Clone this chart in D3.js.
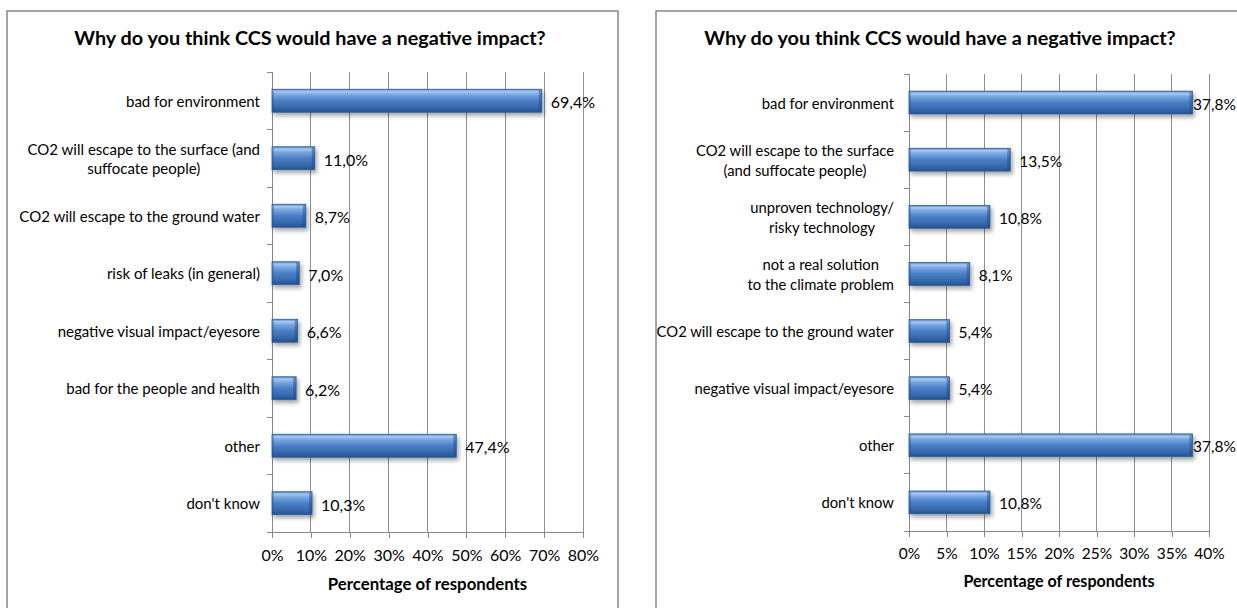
<!DOCTYPE html>
<html>
<head>
<meta charset="utf-8">
<script src="https://cdn.jsdelivr.net/npm/d3@7"></script>
<style>
  html, body { margin: 0; padding: 0; background: #fff; }
  svg { display: block; }
  text { font-family: Lato, "Open Sans", sans-serif; fill: #000; }
</style>
</head>
<body>
<svg id="chart" width="1237" height="608"></svg>
<script>
// ---- data ----
const chartTitle = "Why do you think CCS would have a negative impact?";
const axisTitle = "Percentage of respondents";

const leftCategories = [
  "bad for environment",
  "CO2 will escape to the surface (and\nsuffocate people)",
  "CO2 will escape to the ground water",
  "risk of leaks (in general)",
  "negative visual impact/eyesore",
  "bad for the people and health",
  "other",
  "don't know"
];
const leftValues = [69.4, 11.0, 8.7, 7.0, 6.6, 6.2, 47.4, 10.3];
const leftTicks = [0, 10, 20, 30, 40, 50, 60, 70, 80];

const rightCategories = [
  "bad for environment",
  "CO2 will escape to the surface\n(and suffocate people)",
  "unproven technology/\nrisky technology",
  "not a real solution\nto the climate problem",
  "CO2 will escape to the ground water",
  "negative visual impact/eyesore",
  "other",
  "don't know"
];
const rightValues = [37.8, 13.5, 10.8, 8.1, 5.4, 5.4, 37.8, 10.8];
const rightTicks = [0, 5, 10, 15, 20, 25, 30, 35, 40];

// ---- drawing ----
const svg = d3.select("#chart");
const defs = svg.append("defs");

const grad = defs.append("linearGradient").attr("id", "barGrad")
  .attr("x1", 0).attr("y1", 0).attr("x2", 0).attr("y2", 1);
[["0%", "#4f82c6"], ["10%", "#a9c8f0"], ["24%", "#78a6e2"], ["50%", "#4a7fc6"],
 ["82%", "#3467aa"], ["100%", "#23508c"]].forEach(([o, c]) =>
  grad.append("stop").attr("offset", o).attr("stop-color", c));

const shadow = defs.append("filter").attr("id", "shadow")
  .attr("x", "-10%").attr("y", "-30%").attr("width", "130%").attr("height", "180%");
shadow.append("feDropShadow").attr("dx", 2).attr("dy", 3).attr("stdDeviation", 2)
  .attr("flood-color", "#000").attr("flood-opacity", 0.35);

const gridColor = "#8e8e8e";
const axisColor = "#868686";

// panel borders
svg.append("rect").attr("x", 7).attr("y", 11).attr("width", 611).attr("height", 620)
  .attr("fill", "none").attr("stroke", "#878787").attr("stroke-width", 1.5);
svg.append("rect").attr("x", 656).attr("y", 11).attr("width", 620).attr("height", 620)
  .attr("fill", "none").attr("stroke", "#878787").attr("stroke-width", 1.5);

function drawPanel(cfg, categories, values, ticks) {
  const g = svg.append("g");
  const x = d3.scaleLinear().domain([0, ticks[ticks.length - 1]]).range([cfg.x0, cfg.x1]);
  const y = d3.scaleBand().domain(categories).range([cfg.y0, cfg.y1])
    .paddingInner(0.6).paddingOuter(0.3);
  const step = y.step();

  // title
  g.append("text").attr("x", cfg.titleX).attr("y", cfg.titleY)
    .attr("text-anchor", "middle").attr("font-weight", "bold")
    .attr("font-size", cfg.titleSize).text(chartTitle);

  // gridlines
  g.selectAll(".grid").data(ticks.slice(1)).join("line")
    .attr("x1", d => x(d)).attr("x2", d => x(d))
    .attr("y1", cfg.y0).attr("y2", cfg.y1)
    .attr("stroke", gridColor).attr("stroke-width", 1)
    .attr("shape-rendering", "crispEdges");

  // bottom axis
  const xAxis = d3.axisBottom(x).tickValues(ticks).tickSize(6).tickPadding(cfg.tickPad)
    .tickFormat(d => d + "%");
  const ax = g.append("g").attr("transform", `translate(0,${cfg.y1})`).call(xAxis);
  ax.select(".domain").remove();
  ax.selectAll(".tick line").attr("stroke", axisColor).attr("shape-rendering", "crispEdges");
  ax.selectAll(".tick text").attr("font-size", cfg.tickSize)
    .attr("font-family", "Lato, 'Open Sans', sans-serif").attr("fill", "#000");
  g.append("line").attr("x1", cfg.x0 - 5).attr("x2", cfg.x1)
    .attr("y1", cfg.y1).attr("y2", cfg.y1)
    .attr("stroke", axisColor).attr("shape-rendering", "crispEdges");

  // left axis line + ticks at band boundaries
  g.append("line").attr("x1", cfg.x0).attr("x2", cfg.x0)
    .attr("y1", cfg.y0).attr("y2", cfg.y1)
    .attr("stroke", axisColor).attr("shape-rendering", "crispEdges");
  const bounds = d3.range(categories.length + 1).map(i => cfg.y0 + i * step);
  g.selectAll(".ytick").data(bounds).join("line")
    .attr("x1", cfg.x0 - 5).attr("x2", cfg.x0)
    .attr("y1", d => d).attr("y2", d => d)
    .attr("stroke", axisColor).attr("shape-rendering", "crispEdges");

  // axis title
  g.append("text").attr("x", (cfg.x0 + cfg.x1) / 2).attr("y", cfg.axisTitleY)
    .attr("text-anchor", "middle").attr("dominant-baseline", "central")
    .attr("font-weight", "bold").attr("font-size", cfg.axisTitleSize).text(axisTitle);

  // category labels
  categories.forEach(cat => {
    const lines = cat.split("\n");
    const cy = y(cat) + y.bandwidth() / 2;
    const right = cfg.x0 - cfg.labelGap;
    const t = g.append("text").attr("font-size", cfg.catSize)
      .attr("dominant-baseline", "central");
    if (lines.length === 1) {
      t.attr("x", right).attr("y", cy).attr("text-anchor", "end").text(lines[0]);
    } else {
      const widths = lines.map(l => {
        const m = g.append("text").attr("font-size", cfg.catSize).text(l);
        const w = m.node().getComputedTextLength();
        m.remove();
        return w;
      });
      const cx = right - d3.max(widths) / 2;
      t.attr("text-anchor", "middle");
      lines.forEach((l, i) => {
        t.append("tspan").attr("x", cx)
          .attr("y", cy + (i - (lines.length - 1) / 2) * cfg.lineH).text(l);
      });
    }
  });

  // bars
  const bars = g.selectAll(".bar").data(values).join("g").attr("filter", "url(#shadow)");
  bars.append("rect")
    .attr("x", x(0)).attr("y", (d, i) => y(categories[i]))
    .attr("width", d => x(d) - x(0)).attr("height", y.bandwidth())
    .attr("fill", "url(#barGrad)").attr("stroke", "#2f5f9e").attr("stroke-width", 0.8);
  bars.append("rect")
    .attr("x", d => x(d) - 3).attr("y", (d, i) => y(categories[i]) + 1)
    .attr("width", 3).attr("height", y.bandwidth() - 2)
    .attr("fill", "#1d4a85").attr("opacity", 0.45);
  bars.append("rect")
    .attr("x", x(0)).attr("y", (d, i) => y(categories[i]) + 1)
    .attr("width", 2).attr("height", y.bandwidth() - 2)
    .attr("fill", "#1d4a85").attr("opacity", 0.3);

  // value labels
  values.forEach((v, i) => {
    const t = g.append("text").attr("font-size", cfg.valueSize)
      .attr("dominant-baseline", "central")
      .attr("y", y(categories[i]) + y.bandwidth() / 2 + 1)
      .text(v.toFixed(1).replace(".", ",") + "%");
    const w = t.node().getComputedTextLength();
    t.attr("x", Math.min(x(v) + 9, cfg.labelLimit - w));
  });
}

drawPanel({
  x0: 272, x1: 583, y0: 72, y1: 532,
  titleX: 310, titleY: 45, titleSize: 19.8,
  tickSize: 16, tickPad: 12, axisTitleSize: 16.8, axisTitleY: 583,
  catSize: 15, lineH: 19, labelGap: 12, valueSize: 16, labelLimit: 615
}, leftCategories, leftValues, leftTicks);

drawPanel({
  x0: 909, x1: 1209, y0: 74, y1: 531,
  titleX: 940, titleY: 45, titleSize: 19.8,
  tickSize: 15.5, tickPad: 11, axisTitleSize: 16.1, axisTitleY: 580,
  catSize: 14.8, lineH: 20, labelGap: 15, valueSize: 15.5, labelLimit: 1236
}, rightCategories, rightValues, rightTicks);
</script>
</body>
</html>
